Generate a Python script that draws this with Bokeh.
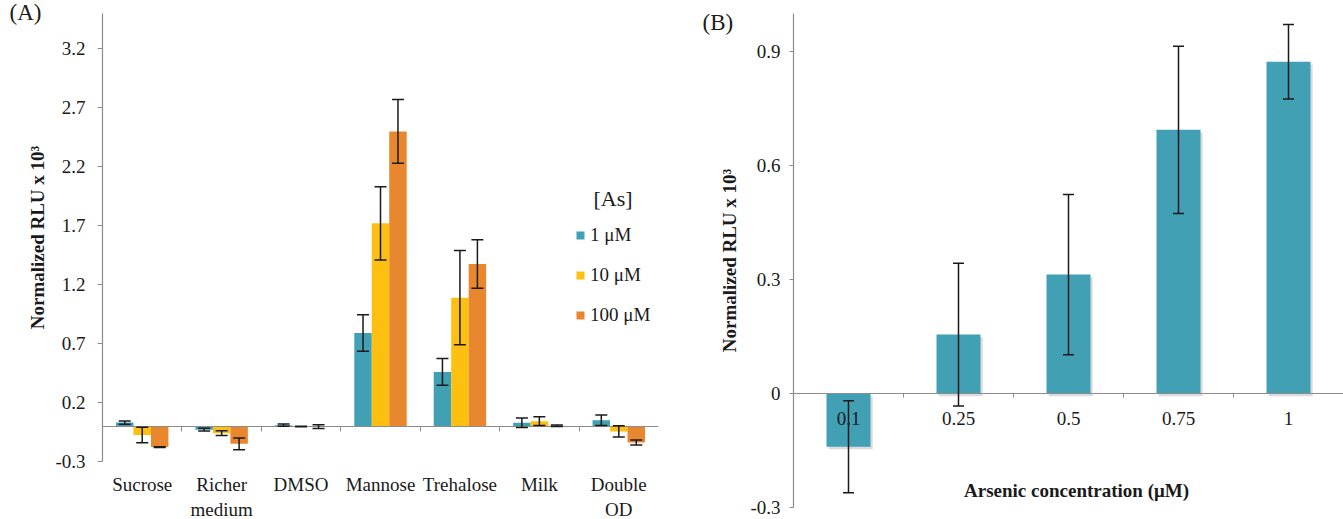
from bokeh.plotting import figure
from bokeh.models import (ColumnDataSource, Range1d, FixedTicker, Whisker, TeeHead,
                          LinearAxis, Legend, LegendItem, Label)
from bokeh.transform import dodge
from bokeh.layouts import row
from bokeh.embed import file_html
from bokeh.resources import INLINE

# ---------------- data: panel A ----------------
categories = ["Sucrose", "Richer\nmedium", "DMSO", "Mannose", "Trehalose", "Milk", "Double\nOD"]
series = ["1 μM", "10 μM", "100 μM"]
vals_1uM = [0.03, -0.03, 0.008, 0.79, 0.46, 0.028, 0.05]
err_1uM = [0.013, 0.012, 0.01, 0.155, 0.113, 0.04, 0.045]
vals_10uM = [-0.075, -0.06, -0.003, 1.72, 1.09, 0.042, -0.045]
err_10uM = [0.065, 0.02, 0.003, 0.31, 0.40, 0.037, 0.048]
vals_100uM = [-0.178, -0.15, -0.005, 2.50, 1.375, 0.003, -0.139]
err_100uM = [0.003, 0.05, 0.016, 0.27, 0.205, 0.006, 0.022]
yticks_A = [-0.3, 0.2, 0.7, 1.2, 1.7, 2.2, 2.7, 3.2]

# ---------------- data: panel B ----------------
conc_labels = ["0.1", "0.25", "0.5", "0.75", "1"]
conc_vals = [-0.14, 0.155, 0.313, 0.694, 0.873]
conc_err = [0.121, 0.188, 0.211, 0.22, 0.098]
yticks_B = [-0.3, 0, 0.3, 0.6, 0.9]

colors = ["#41A0B4", "#FDC010", "#E8872E"]
FONT = "Liberation Serif"
AXIS_GRAY = "#8c8c8c"
TEXT = "#1a1a1a"


def style(ax):
    ax.axis_line_color = AXIS_GRAY
    ax.axis_line_width = 1.2
    ax.major_tick_line_color = AXIS_GRAY
    ax.minor_tick_line_color = AXIS_GRAY
    ax.major_label_text_font = FONT
    ax.major_label_text_font_size = "19px"
    ax.major_label_text_color = TEXT
    ax.axis_label_text_font = FONT
    ax.axis_label_text_font_size = "19px"
    ax.axis_label_text_font_style = "bold"
    ax.axis_label_text_color = TEXT


def tick_text(v):
    return "%g" % v


# ================= Panel A =================
pA = figure(frame_width=556, frame_height=448, output_backend="svg", toolbar_location=None,
            x_range=Range1d(0, len(categories)), y_range=Range1d(-0.3, 3.5),
            x_axis_location=None, y_axis_location=None,
            min_border_left=102, min_border_right=22, min_border_top=13, min_border_bottom=58)
pA.grid.visible = False
pA.outline_line_color = None

# panel tag "(A)" as the plot title
pA.title.text = "(A)"
pA.title.align = "left"
pA.title.offset = -93
pA.title.standoff = -22
pA.title.text_font = FONT
pA.title.text_font_size = "23px"
pA.title.text_font_style = "normal"
pA.title.text_color = TEXT

centers_A = [i + 0.5 for i in range(len(categories))]
bounds_A = [i for i in range(1, len(categories))]

bw = 0.22
offsets = [-bw, 0.0, bw]
all_vals = [vals_1uM, vals_10uM, vals_100uM]
all_errs = [err_1uM, err_10uM, err_100uM]
renderers = []
for k in range(3):
    src = ColumnDataSource(dict(
        x=centers_A, v=all_vals[k],
        up=[v + e for v, e in zip(all_vals[k], all_errs[k])],
        lo=[v - e for v, e in zip(all_vals[k], all_errs[k])]))
    r = pA.vbar(x=dodge("x", offsets[k]), top="v", bottom=0, width=bw, source=src,
                fill_color=colors[k], line_color=None)
    renderers.append(r)
    wh = Whisker(base=dodge("x", offsets[k]), upper="up", lower="lo", source=src,
                 line_color=TEXT, line_width=1.5, level="overlay",
                 upper_head=TeeHead(size=12, line_color=TEXT, line_width=1.5),
                 lower_head=TeeHead(size=12, line_color=TEXT, line_width=1.5))
    pA.add_layout(wh)

yA = LinearAxis(ticker=FixedTicker(ticks=yticks_A, minor_ticks=[]),
                major_label_overrides={t: tick_text(t) for t in yticks_A},
                axis_label="Normalized RLU x 10³")
pA.add_layout(yA, "left")

# zero line with group-separator ticks
xA0 = LinearAxis(fixed_location=0,
                 ticker=FixedTicker(ticks=[], minor_ticks=bounds_A))
pA.add_layout(xA0, "below")
# category labels at the bottom
xA = LinearAxis(ticker=FixedTicker(ticks=centers_A, minor_ticks=[]),
                major_label_overrides={c: n for c, n in zip(centers_A, categories)})
pA.add_layout(xA, "below")

for ax in (yA, xA0, xA):
    style(ax)

yA.major_tick_out = 5
yA.major_tick_in = 0
yA.major_label_standoff = 12
yA.axis_label_standoff = 4
xA0.major_tick_out = 0
xA0.major_tick_in = 0
xA0.minor_tick_out = 5
xA0.minor_tick_in = 0
xA0.major_label_text_font_size = "0px"
xA0.major_label_standoff = 0
xA.axis_line_color = None
xA.major_tick_line_color = None
xA.minor_tick_line_color = None
xA.major_tick_out = 0
xA.major_tick_in = 0
xA.minor_tick_out = 0
xA.minor_tick_in = 0
xA.major_label_standoff = 12

legend = Legend(items=[LegendItem(label=s, renderers=[r]) for s, r in zip(series, renderers)],
                location=(473, 135), glyph_width=10, glyph_height=10, label_height=22,
                spacing=18, padding=0, margin=0, border_line_color=None,
                background_fill_alpha=0, label_text_font=FONT, label_text_font_size="19px",
                label_text_color=TEXT, label_standoff=5)
pA.add_layout(legend)

pA.add_layout(Label(x=491, y=263, x_units="screen", y_units="screen", text="[As]",
                    text_font=FONT, text_font_size="22px", text_color=TEXT,
                    text_baseline="middle"))

# ================= Panel B =================
pB = figure(frame_width=550, frame_height=494, output_backend="svg", toolbar_location=None,
            x_range=Range1d(0, len(conc_labels)), y_range=Range1d(-0.3, 1.0),
            x_axis_location=None, y_axis_location=None,
            min_border_left=113, min_border_right=0, min_border_top=13, min_border_bottom=12)
pB.grid.visible = False
pB.outline_line_color = None

centers_B = [i + 0.5 for i in range(len(conc_labels))]
bounds_B = [i for i in range(1, len(conc_labels))]
srcB = ColumnDataSource(dict(
    x=centers_B, v=conc_vals,
    up=[v + e for v, e in zip(conc_vals, conc_err)],
    lo=[v - e for v, e in zip(conc_vals, conc_err)],
    sh_top=[v - 0.007 for v in conc_vals],
    sh_bot=[-0.007 for v in conc_vals]))
# soft drop shadow under the bars
pB.vbar(x=dodge("x", 0.02), top="sh_top", bottom="sh_bot", width=0.4, source=srcB,
        fill_color="#000000", fill_alpha=0.14, line_color=None)
pB.vbar(x="x", top="v", bottom=0, width=0.4, source=srcB,
        fill_color=colors[0], line_color=None)
pB.add_layout(Whisker(base="x", upper="up", lower="lo", source=srcB,
                      line_color=TEXT, line_width=1.5, level="overlay",
                      upper_head=TeeHead(size=11, line_color=TEXT, line_width=1.5),
                      lower_head=TeeHead(size=11, line_color=TEXT, line_width=1.5)))

yB = LinearAxis(ticker=FixedTicker(ticks=yticks_B, minor_ticks=[]),
                major_label_overrides={t: tick_text(t) for t in yticks_B},
                axis_label="Normalized RLU x 10³")
pB.add_layout(yB, "left")
xB = LinearAxis(fixed_location=0,
                ticker=FixedTicker(ticks=centers_B, minor_ticks=bounds_B),
                major_label_overrides={c: n for c, n in zip(centers_B, conc_labels)})
pB.add_layout(xB, "below")

for ax in (yB, xB):
    style(ax)

yB.major_tick_out = 4
yB.major_tick_in = 0
yB.major_label_standoff = 9
yB.axis_label_standoff = 7
xB.major_tick_out = 0
xB.major_tick_in = 0
xB.major_tick_line_color = None
xB.minor_tick_out = 4
xB.minor_tick_in = 0
xB.major_label_standoff = 14

pB.add_layout(Label(x=17, y=485, x_units="screen", y_units="screen", text="(B)",
                    text_font=FONT, text_font_size="23px", text_color=TEXT,
                    text_baseline="middle"), "left")
pB.add_layout(Label(x=283, y=17, x_units="screen", y_units="screen",
                    text="Arsenic concentration (μM)",
                    text_font=FONT, text_font_size="19px", text_font_style="bold",
                    text_color=TEXT, text_align="center", text_baseline="middle"))

layout = row(pA, pB)
open("out.html", "w").write(file_html(layout, INLINE))
